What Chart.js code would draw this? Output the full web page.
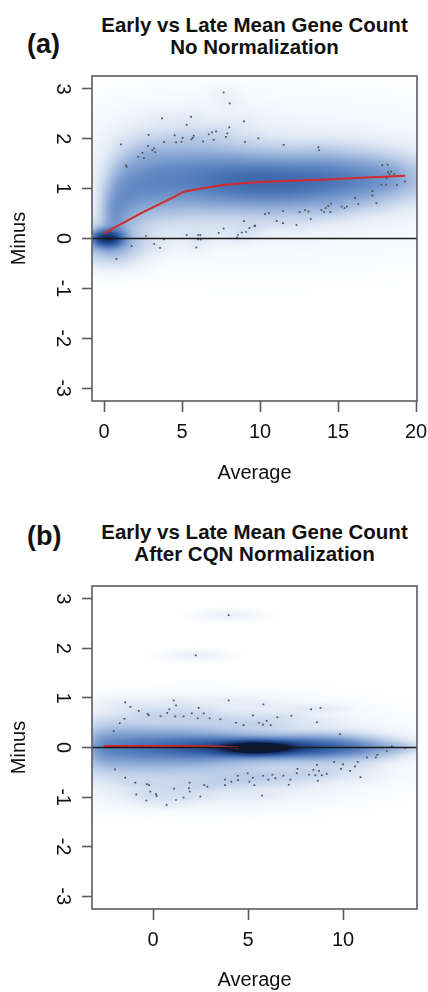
<!DOCTYPE html>
<html>
<head>
<meta charset="utf-8">
<script src="https://cdn.jsdelivr.net/npm/chart.js@4.4.1/dist/chart.umd.min.js"></script>
<style>
  html, body { margin: 0; padding: 0; background: #fff; }
  body { width: 428px; height: 992px; position: relative; overflow: hidden; font-family: "Liberation Sans", Arial, sans-serif; color: #111; }
  canvas { position: absolute; left: 0; }
  .title { position: absolute; left: 92px; width: 325px; text-align: center; font-weight: bold; font-size: 20.5px; line-height: 22px; white-space: nowrap; }
  .tag { position: absolute; left: 27px; font-weight: bold; font-size: 27px; line-height: 27px; }
</style>
</head>
<body>
<div class="tag" style="top:31px">(a)</div>
<div class="title" style="top:14px">Early vs Late Mean Gene Count<br>No Normalization</div>
<canvas id="chartA" width="428" height="496" style="top:0"></canvas>

<div class="tag" style="top:523px">(b)</div>
<div class="title" style="top:521px">Early vs Late Mean Gene Count<br>After CQN Normalization</div>
<canvas id="chartB" width="428" height="496" style="top:496px"></canvas>

<script>
// shared axis ticks
const yTicks = [-3, -2, -1, 0, 1, 2, 3];
const yRange = [-3.26, 3.26];

// ---- panel (a): no normalization ----
const aXRange = [-0.77, 20.06];
const aXTicks = [0, 5, 10, 15, 20];
const aLowessX = [0.02, 2.44, 4.47, 5.1, 6.3, 7.78, 9.7, 12.0, 13.95, 16.5, 19.3];
const aLowessY = [0.11, 0.52, 0.83, 0.94, 1.01, 1.08, 1.13, 1.16, 1.18, 1.22, 1.26];
// sparse outlying genes (x, y)
const aDots = [
  [7.67,2.93],[8.06,2.71],[3.72,2.41],[5.58,2.44],[5.30,2.28],[8.97,2.35],[8.03,2.23],[2.86,2.08],
  [4.53,2.07],[5.04,2.02],[5.75,2.06],[5.68,2.02],[5.60,1.99],[6.71,2.09],[6.92,2.13],[7.18,2.15],
  [7.03,1.98],[6.35,1.95],[7.82,2.04],[7.90,2.11],[9.04,1.94],[3.85,1.94],[4.62,1.93],[4.96,1.94],
  [1.09,1.89],[2.82,1.86],[3.10,1.77],[3.22,1.81],[3.29,1.73],[2.46,1.72],[2.20,1.64],[2.56,1.61],
  [1.41,1.47],[1.45,1.44],
  [8.97,0.35],[9.64,0.25],[9.32,0.21],[9.10,0.13],[8.83,0.12],[8.59,0.07],[8.53,0.02],[7.67,0.20],
  [7.35,0.11],[5.30,0.07],[6.03,0.07],[6.17,0.07],[6.03,-0.02],[6.20,-0.02],[2.69,0.05],[3.85,-0.02],
  [1.77,-0.15],[3.22,-0.11],[3.59,-0.19],[5.92,-0.18],[0.79,-0.41],
  [9.89,2.01],[11.52,1.88],[13.74,1.83],[13.78,1.77],[17.84,1.47],[18.18,1.48],[18.2,1.33],[18.4,1.34],
  [18.3,1.29],[18.6,1.29],[18.1,1.21],[17.78,1.08],[18.08,1.08],[18.78,1.07],[19.29,1.14],[17.2,0.95],
  [17.2,0.86],[16.09,0.81],[16.3,0.69],[17.46,0.71],[14.55,0.70],[14.38,0.65],[14.21,0.61],[13.93,0.57],
  [14.1,0.53],[14.51,0.53],[15.23,0.64],[15.41,0.61],[15.56,0.64],[11.47,0.55],[12.54,0.53],[12.88,0.57],
  [13.1,0.54],[10.32,0.49],[10.58,0.51],[11.07,0.35],[11.47,0.31],[13.25,0.39],[12.33,0.27],[9.68,0.26]
];
// smoothed density cloud: [x, y, spreadX, spreadY, weight]
const aCloud = [
  [0.2, 0.0, 0.6, 0.1, 0.7],
  [0.3, -0.05, 1.2, 0.22, 0.12],
  [0.5, -0.2, 1.3, 0.2, 0.03],
  [0.6, 0.45, 0.5, 0.35, 0.12],
  [1.2, 0.85, 0.7, 0.42, 0.13],
  [2.2, 1.05, 0.9, 0.45, 0.12],
  [3.5, 1.15, 1.1, 0.42, 0.12],
  [5.0, 1.2, 1.5, 0.42, 0.15],
  [7.0, 1.18, 1.5, 0.38, 0.175],
  [9.0, 1.15, 1.5, 0.34, 0.21],
  [11.0, 1.12, 1.5, 0.33, 0.22],
  [13.0, 1.15, 1.5, 0.33, 0.2],
  [15.0, 1.18, 1.5, 0.33, 0.17],
  [17.0, 1.2, 1.5, 0.3, 0.13],
  [19.0, 1.2, 1.5, 0.28, 0.07],
  [6.0, 1.8, 3.0, 0.45, 0.01],
  [10.0, 1.2, 7.0, 0.7, 0.01]
];

// ---- panel (b): after CQN normalization ----
const bXRange = [-3.21, 13.89];
const bXTicks = [0, 5, 10];
const bLowessX = [-2.6, -1.0, 1.0, 3.0, 4.5, 6.0, 8.0, 10.0, 13.2];
const bLowessY = [0.03, 0.03, 0.03, 0.025, 0.0, 0.0, 0.0, 0.0, 0.0];
const bDots = [
  [3.98,2.67],[2.25,1.86],[3.98,0.95],[1.09,0.95],[-1.46,0.91],[-1.19,0.82],[1.21,0.85],[-0.75,0.74],
  [0.86,0.77],[2.40,0.80],[-0.28,0.68],[-0.23,0.65],[0.75,0.70],[0.39,0.63],[1.16,0.63],[1.61,0.63],
  [2.04,0.69],[2.67,0.69],[2.35,0.59],[2.98,0.59],[3.54,0.57],[-1.51,0.58],[-1.75,0.49],[-2.07,0.33],
  [4.37,0.50],[4.77,0.45],[5.26,0.65],[5.81,0.87],[5.58,0.50],[5.79,0.46],[5.98,0.54],[6.19,0.45],
  [6.54,0.61],[7.28,0.64],[8.32,0.77],[8.81,0.80],[8.63,0.51],[9.83,0.27],[12.56,0.02],[13.26,-0.01],
  [-2.0,-0.44],[-1.46,-0.61],[-0.93,-0.71],[-0.32,-0.74],[-0.21,-0.76],[-0.88,-0.95],[-0.14,-0.89],[0.16,-0.94],
  [0.19,-0.98],[-0.35,-1.07],[0.72,-1.16],[1.21,-1.06],[1.61,-1.01],[1.11,-0.83],[1.93,-0.71],[1.89,-0.82],
  [1.93,-0.89],[2.49,-0.99],[2.70,-0.76],[2.86,-0.79],[3.79,-0.65],[3.79,-0.76],[4.12,-0.69],[4.46,-0.57],
  [4.47,-0.66],[4.98,-0.52],[5.25,-0.61],[5.07,-0.69],[5.33,-0.76],
  [12.3,-0.07],[11.8,-0.15],[11.72,-0.2],[11.25,-0.20],[10.77,-0.29],[10.63,-0.38],[10.37,-0.47],[9.53,-0.29],
  [10.0,-0.34],[9.89,-0.43],[7.6,-0.43],[7.56,-0.52],[8.63,-0.35],[8.44,-0.45],[8.74,-0.47],[8.21,-0.55],
  [8.54,-0.56],[8.88,-0.56],[9.14,-0.53],[8.67,-0.67],[10.91,-0.60],[5.79,-0.57],[6.07,-0.65],[6.28,-0.55],
  [6.44,-0.62],[6.86,-0.57],[7.23,-0.65],[7.14,-0.75],[5.74,-0.97]
];
const bCloud = [
  [5.5, -0.01, 1.2, 0.08, 1.2],
  [5.0, 0.0, 2.6, 0.13, 0.45],
  [1.0, 0.0, 2.2, 0.22, 0.22],
  [-1.5, 0.0, 1.2, 0.25, 0.12],
  [-2.6, 0.0, 0.6, 0.25, 0.08],
  [8.8, 0.0, 1.5, 0.14, 0.3],
  [11.0, 0.0, 1.2, 0.12, 0.12],
  [12.8, 0.0, 0.7, 0.08, 0.04],
  [2.5, -0.08, 4.0, 0.38, 0.07],
  [2.5, -0.65, 3.5, 0.25, 0.012],
  [2.0, 0.55, 3.5, 0.25, 0.008]
];

// colour ramp for the density image, light to dark
const densityRamp = ['#ffffff', '#e6edf7', '#c9d7ec', '#a7bee0', '#84a3d2', '#6389c4',
                     '#4570b3', '#2f5a9f', '#224688', '#16316a', '#0a1838'];

const FONT = '"Liberation Sans", Arial, sans-serif';
const AXIS_GREY = '#5a5a5a';

function hexToRgb(hex) {
  return [parseInt(hex.slice(1, 3), 16), parseInt(hex.slice(3, 5), 16), parseInt(hex.slice(5, 7), 16)];
}

// draws the smoothed-scatter density image under the datasets
function densityPlugin(cloud, dots, dotSpread) {
  return {
    id: 'density',
    beforeDatasetsDraw(chart) {
      const { ctx, chartArea: ca, scales: { x, y } } = chart;
      const w = Math.round(ca.right - ca.left), h = Math.round(ca.bottom - ca.top);
      const grid = new Float32Array(w * h);
      const add = (bx, by, sx, sy, wt) => {
        const cx = x.getPixelForValue(bx) - ca.left;
        const cy = y.getPixelForValue(by) - ca.top;
        const px = Math.abs(x.getPixelForValue(bx + sx) - x.getPixelForValue(bx));
        const py = Math.abs(y.getPixelForValue(by + sy) - y.getPixelForValue(by));
        const x0 = Math.max(0, Math.floor(cx - 4 * px)), x1 = Math.min(w - 1, Math.ceil(cx + 4 * px));
        const y0 = Math.max(0, Math.floor(cy - 4 * py)), y1 = Math.min(h - 1, Math.ceil(cy + 4 * py));
        for (let j = y0; j <= y1; j++) {
          const dy = (j + 0.5 - cy) / py;
          for (let i = x0; i <= x1; i++) {
            const dx = (i + 0.5 - cx) / px;
            grid[j * w + i] += wt * Math.exp(-0.5 * (dx * dx + dy * dy));
          }
        }
      };
      cloud.forEach(b => add(b[0], b[1], b[2], b[3], b[4]));
      dots.forEach(d => add(d[0], d[1], dotSpread[0], dotSpread[1], dotSpread[2]));

      const ramp = densityRamp.map(hexToRgb);
      const img = new ImageData(w, h);
      for (let k = 0; k < w * h; k++) {
        const t = Math.min(1, Math.sqrt(grid[k])) * (ramp.length - 1);
        const i = Math.min(ramp.length - 2, Math.floor(t)), f = t - i;
        const c0 = ramp[i], c1 = ramp[i + 1];
        img.data[k * 4] = c0[0] + (c1[0] - c0[0]) * f;
        img.data[k * 4 + 1] = c0[1] + (c1[1] - c0[1]) * f;
        img.data[k * 4 + 2] = c0[2] + (c1[2] - c0[2]) * f;
        img.data[k * 4 + 3] = 255;
      }
      const off = document.createElement('canvas');
      off.width = w; off.height = h;
      off.getContext('2d').putImageData(img, 0, 0);
      ctx.drawImage(off, ca.left, ca.top);
    }
  };
}

// R style box around the plot region
const boxPlugin = {
  id: 'box',
  afterDatasetsDraw(chart) {
    const { ctx, chartArea: ca } = chart;
    ctx.save();
    ctx.strokeStyle = AXIS_GREY;
    ctx.lineWidth = 1.6;
    ctx.strokeRect(ca.left, ca.top, ca.right - ca.left, ca.bottom - ca.top);
    ctx.restore();
  }
};

function makeChart(canvasId, p) {
  const ctx = document.getElementById(canvasId).getContext('2d');
  return new Chart(ctx, {
    data: {
      datasets: [
        {
          type: 'line', label: 'zero', order: 0,
          data: p.xRange.map(v => ({ x: v, y: 0 })),
          borderColor: '#1a1a1a', borderWidth: 1.5, pointRadius: 0
        },
        {
          type: 'line', label: 'lowess', order: 1,
          data: p.lowessX.map((v, i) => ({ x: v, y: p.lowessY[i] })),
          borderColor: '#d42a2a', borderWidth: 2, pointRadius: 0, tension: 0,
          // where the curve lies on the zero line it is hidden beneath it
          segment: { borderWidth: s => (s.p0.parsed.x >= p.redHiddenFrom ? 1.2 : 2) }
        },
        {
          type: 'scatter', label: 'genes', order: 2,
          data: p.dots.map(d => ({ x: d[0], y: d[1] })),
          pointStyle: 'rect', pointRadius: 1.2, backgroundColor: '#4a4a4a', borderWidth: 0
        }
      ]
    },
    options: {
      responsive: false,
      animation: false,
      devicePixelRatio: 1,
      layout: { padding: { top: p.top, right: 11, left: 0, bottom: 0 } },
      plugins: { legend: { display: false }, tooltip: { enabled: false } },
      scales: {
        x: {
          type: 'linear', min: p.xRange[0], max: p.xRange[1],
          afterBuildTicks: s => { s.ticks = p.xTicks.map(v => ({ value: v })); },
          afterFit: s => { s.height = p.xHeight; s.paddingLeft = 0; s.paddingRight = 0; },
          grid: { drawOnChartArea: false, drawTicks: true, tickLength: 11, tickColor: AXIS_GREY, tickWidth: 1.6 },
          border: { display: false },
          ticks: { font: { family: FONT, size: 20 }, color: '#111', padding: 8, maxRotation: 0, minRotation: 0,
                   autoSkip: false, callback: v => String(v) },
          title: { display: true, text: 'Average', font: { family: FONT, size: 20 }, color: '#111',
                   padding: { top: 0, bottom: p.titlePad } }
        },
        y: {
          type: 'linear', min: yRange[0], max: yRange[1],
          afterBuildTicks: s => { s.ticks = yTicks.map(v => ({ value: v })); },
          afterFit: s => { s.width = 92; s.paddingTop = 0; s.paddingBottom = 0; },
          grid: { drawOnChartArea: false, drawTicks: true, tickLength: 10, tickColor: AXIS_GREY, tickWidth: 1.6 },
          border: { display: false },
          ticks: { font: { family: FONT, size: 20 }, color: '#111', padding: 11, minRotation: -90, maxRotation: -90,
                   crossAlign: 'center', autoSkip: false, callback: v => String(v) },
          title: { display: true, text: 'Minus', font: { family: FONT, size: 20 }, color: '#111',
                   padding: { top: 7.5, bottom: 0 } }
        }
      }
    },
    plugins: [densityPlugin(p.cloud, p.dots, p.dotSpread), boxPlugin]
  });
}

makeChart('chartA', {
  xRange: aXRange, xTicks: aXTicks, lowessX: aLowessX, lowessY: aLowessY, dots: aDots,
  cloud: aCloud, dotSpread: [0.6, 0.1, 0.004], top: 76, xHeight: 95, titlePad: 11, redHiddenFrom: Infinity
});
makeChart('chartB', {
  xRange: bXRange, xTicks: bXTicks, lowessX: bLowessX, lowessY: bLowessY, dots: bDots,
  cloud: bCloud, dotSpread: [0.9, 0.06, 0.006], top: 90, xHeight: 83, titlePad: 0, redHiddenFrom: 4.5
});
</script>
</body>
</html>
